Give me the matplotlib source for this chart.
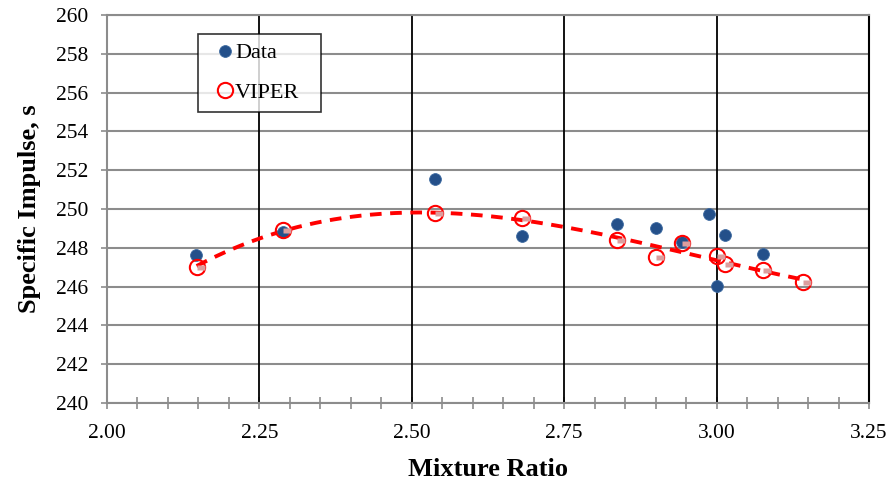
import numpy as np
import matplotlib.pyplot as plt
from matplotlib.path import Path
from matplotlib.ticker import MultipleLocator, FormatStrFormatter

plt.rcParams['font.family'] = ['Liberation Serif', 'DejaVu Serif']

# Measured test data
data_mr = [2.146, 2.288, 2.538, 2.681, 2.836, 2.901, 2.943, 2.987, 3.014, 3.076, 3.001]
data_isp = [247.63, 248.83, 251.53, 248.60, 249.23, 249.00, 248.31, 249.73, 248.68, 247.66, 246.05]

# VIPER predictions
viper_mr = [2.147, 2.289, 2.538, 2.681, 2.836, 2.901, 2.943, 3.001, 3.014, 3.076, 3.142]
viper_isp = [247.03, 248.92, 249.78, 249.54, 248.40, 247.54, 248.26, 247.58, 247.16, 246.86, 246.24]

fig = plt.figure(figsize=(8.93, 4.83), dpi=100)
ax = fig.add_axes([107 / 893, 1 - 403 / 483, (869 - 107) / 893, (403 - 15) / 483])

grid_gray = '#8c8c8c'

# cubic trend through the VIPER points
coef = np.polyfit(viper_mr, viper_isp, 3)
xt = np.linspace(min(viper_mr), max(viper_mr), 200)
ax.plot(xt, np.polyval(coef, xt), color='#ff0000', lw=2.8, ls=(0, (3, 2.2)), zorder=3)

ax.plot(data_mr, data_isp, 'o', color='#24508a', ms=8.5, mec='#3d6aa0', mew=0.6,
        label='Data', zorder=4)
ax.plot(viper_mr, viper_isp, 'o', mfc='none', mec='#ff0000', ms=11, mew=1.5,
        label='VIPER', zorder=5)

# small offset dash drawn on each VIPER point
dash = Path([(0.0, -0.3), (1.0, -0.3), (1.0, 0.3), (0.0, 0.3), (0.0, -0.3)],
            [Path.MOVETO, Path.LINETO, Path.LINETO, Path.LINETO, Path.CLOSEPOLY])
ax.plot(viper_mr, viper_isp, ls='none', marker=dash, ms=12, mfc='#dc9e9e', mec='none',
        zorder=6)

ax.set_xlim(2.0, 3.25)
ax.set_ylim(240, 260)
ax.xaxis.set_major_locator(MultipleLocator(0.25))
ax.xaxis.set_minor_locator(MultipleLocator(0.05))
ax.yaxis.set_major_locator(MultipleLocator(2))
ax.xaxis.set_major_formatter(FormatStrFormatter('%.2f'))

ax.grid(axis='y', color=grid_gray, lw=1.5)
for xv in [2.25, 2.5, 2.75, 3.0]:
    ax.axvline(xv, color='black', lw=1.3, zorder=1)
ax.set_axisbelow(True)

for s in ['left', 'bottom', 'top']:
    ax.spines[s].set_color(grid_gray)
    ax.spines[s].set_linewidth(1.5)
ax.spines['right'].set_color('black')
ax.spines['right'].set_linewidth(1.5)

ax.tick_params(axis='x', which='both', direction='inout', color=grid_gray, width=1.2,
               labelsize=15.5)
ax.tick_params(axis='x', which='major', length=8, pad=11)
ax.tick_params(axis='x', which='minor', length=8)
ax.tick_params(axis='y', direction='out', color=grid_gray, width=1.2, length=4.5,
               labelsize=15.5, pad=9)

ax.set_xlabel('Mixture Ratio', fontsize=19, fontweight='bold', labelpad=11)
ax.set_ylabel('Specific Impulse, s', fontsize=19, fontweight='bold', labelpad=11)

# legend box spans x 198..321 px, top at 34 px
lx0 = (198 - 107) / 762
lw = (321 - 198) / 762
ltop = 1 - (34 - 15) / 388
leg = ax.legend(loc='upper left', bbox_to_anchor=(lx0, ltop - 0.3, lw, 0.3), mode='expand',
                fontsize=16, frameon=True, fancybox=False, edgecolor='black',
                handlelength=1.6, handletextpad=-0.34, borderpad=0.4, labelspacing=0.85,
                borderaxespad=0)
leg.get_frame().set_linewidth(1.2)

fig.savefig('out.png', dpi=100)
